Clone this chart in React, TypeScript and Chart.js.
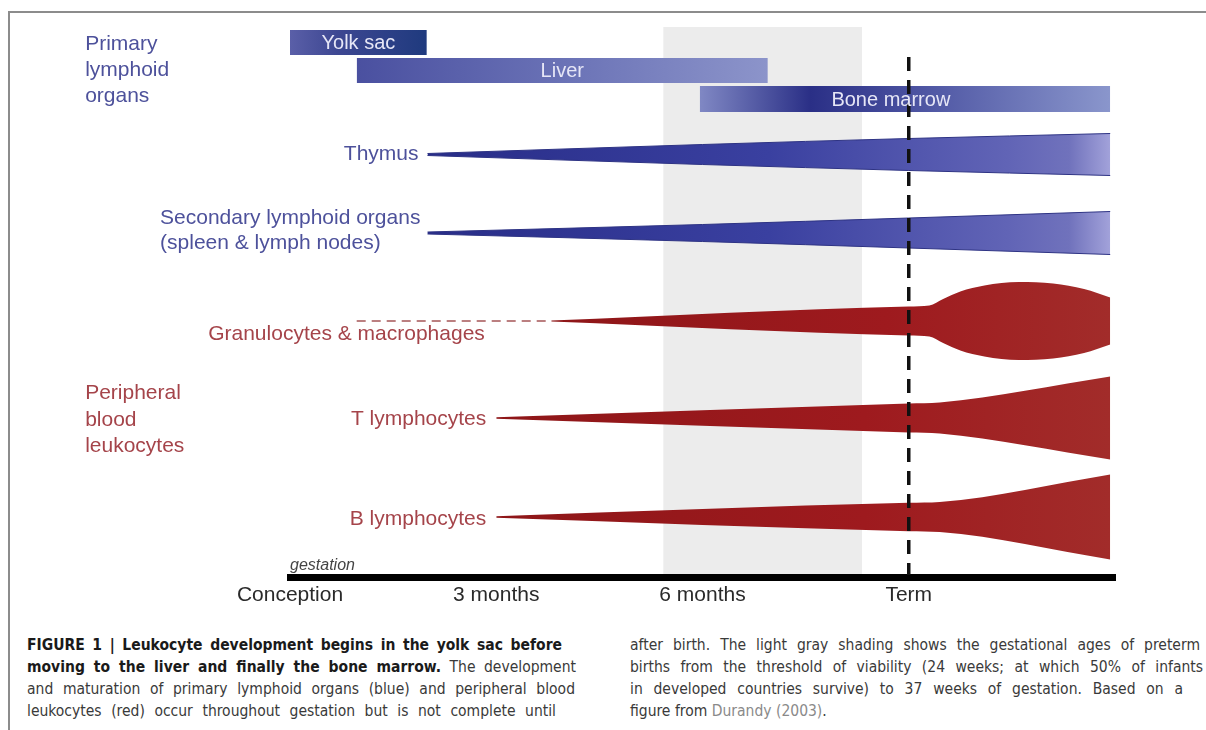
import React, { useEffect, useRef } from 'react';
import { Chart, registerables } from 'chart.js';

Chart.register(...registerables);

// ---------- data (x = months from conception, y = schematic row units) ----------
const axisTickMonths = [0, 3, 6, 9];
const axisTickLabels = ['Conception', '3 months', '6 months', 'Term'];
const termMonth = 9;
const pretermMonths = [5.43, 8.32];

const organNames = ['Yolk sac', 'Liver', 'Bone marrow'];
const organStart = [0, 0.97, 5.96];
const organEnd = [1.99, 6.95, 11.93];
const organTop = [54.7, 51.9, 49.1];
const organBottom = [52.2, 49.4, 46.5];

const rowNames = ['Thymus', 'Secondary lymphoid organs', 'Granulocytes & macrophages', 'T lymphocytes', 'B lymphocytes'];
const secondarySubLabel = '(spleen & lymph nodes)';
const rowCenters = [42.25, 34.4, 25.6, 15.9, 6.0];

const thymusMonths = [2, 6, 9, 11.93];
const thymusHalf = [0.1, 1.0, 1.6, 2.1];
const secondaryMonths = [2, 6, 9, 11.93];
const secondaryHalf = [0.1, 0.85, 1.5, 2.15];
const granuloDashMonths = [0.97, 3.8];
const granuloMonths = [3.8, 9.0, 9.3, 9.5, 9.75, 10.1, 10.6, 11.1, 11.55, 11.93];
const granuloHalf = [0.05, 1.45, 1.55, 2.2, 2.95, 3.55, 3.9, 3.75, 3.2, 2.35];
const tCellMonths = [3.0, 9.0, 9.45, 11.93];
const tCellHalf = [0.08, 1.45, 1.55, 4.15];
const bCellMonths = [3.0, 9.0, 9.45, 11.93];
const bCellHalf = [0.08, 1.42, 1.5, 4.25];

const primaryTitle = ['Primary', 'lymphoid', 'organs'];
const peripheralTitle = ['Peripheral', 'blood', 'leukocytes'];
const gestationLabel = 'gestation';

// ---------- styles ----------
const FONT = '"Liberation Sans", Arial, Helvetica, sans-serif';
const CAPTION_FONT = '"Liberation Sans Narrow", "DejaVu Sans Condensed", "Liberation Sans", Arial, sans-serif';
const BLUE_TEXT = '#4d519b';
const RED_TEXT = '#a5444a';

type Stop = [number, string];
const yolkStops: Stop[] = [[0, '#5a5fa8'], [0.35, '#3d4792'], [1, '#1f3a7e']];
const liverStops: Stop[] = [[0, '#4a50a0'], [0.5, '#6a72b6'], [1, '#8c94ca']];
const marrowStops: Stop[] = [[0, '#8088c4'], [0.27, '#2a2f86'], [0.6, '#555da8'], [1, '#8a96cc']];
const blueWedgeStops: Stop[] = [[0, '#282d88'], [0.5, '#3a40a0'], [0.85, '#6164b6'], [0.94, '#7072bc'], [1, '#a2a2da']];
const redStops: Stop[] = [[0, '#8e1618'], [0.6, '#9e1a1e'], [1, '#a22c2a']];

const gradient = (stops: Stop[], from: number, to: number) => (ctx: any) => {
  const chart = ctx.chart;
  const { chartArea, scales } = chart;
  if (!chartArea || !scales.x) return stops[0][1];
  const g = chart.ctx.createLinearGradient(scales.x.getPixelForValue(from), 0, scales.x.getPixelForValue(to), 0);
  stops.forEach(([o, c]) => g.addColorStop(o, c));
  return g;
};

function band(months: number[], center: number, half: number[], fillColor: any, edge: string | null) {
  const common = {
    pointRadius: 0,
    pointHoverRadius: 0,
    cubicInterpolationMode: 'monotone' as const,
    borderColor: edge || 'rgba(0,0,0,0)',
    borderWidth: edge ? 1 : 0,
  };
  return [
    { ...common, data: months.map((m, i) => ({ x: m, y: center + half[i] })), fill: false },
    { ...common, data: months.map((m, i) => ({ x: m, y: center - half[i] })), fill: '-1', backgroundColor: fillColor },
  ];
}

function rect(i: number, stops: Stop[]) {
  const base = { pointRadius: 0, pointHoverRadius: 0, borderWidth: 0, borderColor: 'rgba(0,0,0,0)' };
  return [
    { ...base, data: [{ x: organStart[i], y: organTop[i] }, { x: organEnd[i], y: organTop[i] }], fill: false },
    {
      ...base,
      data: [{ x: organStart[i], y: organBottom[i] }, { x: organEnd[i], y: organBottom[i] }],
      fill: '-1',
      backgroundColor: gradient(stops, organStart[i], organEnd[i]),
    },
  ];
}

const decorPlugin = {
  id: 'decor',
  beforeDatasetsDraw(chart: any) {
    const { ctx, scales: { x, y } } = chart;
    ctx.save();
    ctx.fillStyle = '#ececec';
    const x0 = x.getPixelForValue(pretermMonths[0]);
    const x1 = x.getPixelForValue(pretermMonths[1]);
    const yt = y.getPixelForValue(55.0);
    const yb = y.getPixelForValue(0.3);
    ctx.fillRect(x0, yt, x1 - x0, yb - yt);
    ctx.restore();
  },
  afterDatasetsDraw(chart: any) {
    const { ctx, scales: { x, y } } = chart;
    ctx.save();
    ctx.strokeStyle = '#111';
    ctx.lineWidth = 3.5;
    ctx.setLineDash([14, 9]);
    const tx = x.getPixelForValue(termMonth);
    ctx.beginPath();
    ctx.moveTo(tx, y.getPixelForValue(52.0));
    ctx.lineTo(tx, y.getPixelForValue(0.2));
    ctx.stroke();
    ctx.restore();
  },
  afterDraw(chart: any) {
    const { ctx, scales: { x, y } } = chart;
    const px = (m: number) => x.getPixelForValue(m);
    const py = (v: number) => y.getPixelForValue(v);
    ctx.save();
    ctx.textBaseline = 'middle';
    ctx.font = `21px ${FONT}`;

    // group titles
    ctx.textAlign = 'left';
    ctx.fillStyle = BLUE_TEXT;
    [53.3, 50.7, 48.1].forEach((v, i) => ctx.fillText(primaryTitle[i], px(-2.98), py(v)));
    ctx.fillStyle = RED_TEXT;
    [18.4, 15.7, 13.1].forEach((v, i) => ctx.fillText(peripheralTitle[i], px(-2.98), py(v)));

    // row labels
    ctx.fillStyle = BLUE_TEXT;
    ctx.textAlign = 'right';
    ctx.fillText(rowNames[0], px(thymusMonths[0]) - 9, py(rowCenters[0]));
    ctx.textAlign = 'left';
    ctx.fillText(rowNames[1], px(-1.89), py(35.9));
    ctx.fillText(secondarySubLabel, px(-1.89), py(33.4));

    ctx.fillStyle = RED_TEXT;
    ctx.fillText(rowNames[2], px(-1.19), py(24.3));
    ctx.textAlign = 'right';
    ctx.fillText(rowNames[3], px(tCellMonths[0]) - 10, py(rowCenters[3] - 0.1));
    ctx.fillText(rowNames[4], px(bCellMonths[0]) - 10, py(rowCenters[4] - 0.2));

    // organ bar labels
    ctx.fillStyle = '#e6e6f6';
    ctx.textAlign = 'center';
    ctx.font = `20px ${FONT}`;
    const labelMonths = [(organStart[0] + organEnd[0]) / 2, (organStart[1] + organEnd[1]) / 2, 8.74];
    organNames.forEach((n, i) => ctx.fillText(n, px(labelMonths[i]), py((organTop[i] + organBottom[i]) / 2) + 1));

    // gestation
    ctx.fillStyle = '#444';
    ctx.textAlign = 'left';
    ctx.font = `italic 16px ${FONT}`;
    ctx.fillText(gestationLabel, px(0), py(1.1));
    ctx.restore();
  },
};

const captionLine: React.CSSProperties = {
  position: 'absolute',
  height: 22,
  lineHeight: '22px',
  whiteSpace: 'nowrap',
  textAlign: 'justify',
  textAlignLast: 'justify' as any,
  fontSize: 15.5,
  color: '#3a3a3a',
  fontFamily: CAPTION_FONT,
};

export default function App() {
  const ref = useRef<HTMLCanvasElement>(null);
  useEffect(() => {
    if (!ref.current) return;
    const datasets: any[] = [
      ...rect(0, yolkStops),
      ...rect(1, liverStops),
      ...rect(2, marrowStops),
      ...band(thymusMonths, rowCenters[0], thymusHalf, gradient(blueWedgeStops, thymusMonths[0], 11.93), '#2e3384'),
      ...band(secondaryMonths, rowCenters[1], secondaryHalf, gradient(blueWedgeStops, secondaryMonths[0], 11.93), '#2e3384'),
      {
        data: granuloDashMonths.map((m) => ({ x: m, y: rowCenters[2] })),
        borderColor: '#bb7f80',
        borderWidth: 2,
        borderDash: [9, 6],
        pointRadius: 0,
        fill: false,
      },
      ...band(granuloMonths, rowCenters[2], granuloHalf, gradient(redStops, granuloMonths[0], 11.93), null),
      ...band(tCellMonths, rowCenters[3], tCellHalf, gradient(redStops, tCellMonths[0], 11.93), null),
      ...band(bCellMonths, rowCenters[4], bCellHalf, gradient(redStops, bCellMonths[0], 11.93), null),
    ];
    const chart = new Chart(ref.current, {
      type: 'line',
      data: { datasets },
      options: {
        animation: false,
        responsive: false,
        layout: { padding: { left: 290, right: 91, top: 17, bottom: 3 } },
        plugins: { legend: { display: false }, tooltip: { enabled: false } },
        events: [],
        scales: {
          x: {
            type: 'linear',
            min: 0,
            max: 12,
            grid: { display: false, drawTicks: false },
            border: { display: true, color: '#000', width: 7 },
            afterBuildTicks: (scale: any) => {
              scale.ticks = axisTickMonths.map((v) => ({ value: v }));
            },
            afterFit: (scale: any) => {
              scale.height = 40;
            },
            ticks: {
              autoSkip: false,
              maxRotation: 0,
              padding: 6,
              color: '#2a2a2a',
              font: { size: 21, family: FONT },
              callback: (v: any) => {
                const i = axisTickMonths.indexOf(Number(v));
                return i >= 0 ? axisTickLabels[i] : '';
              },
            },
          },
          y: { type: 'linear', min: 0, max: 56, display: false },
        },
      } as any,
      plugins: [decorPlugin],
    });
    return () => chart.destroy();
  }, []);

  return (
    <div style={{ position: 'fixed', left: 0, top: 0, width: 1206, height: 730, background: '#fff', overflow: 'hidden' }}>
      <div
        style={{
          position: 'absolute',
          left: 8,
          top: 11,
          width: 1300,
          height: 800,
          borderTop: '2px solid #8c8c8c',
          borderLeft: '2px solid #8c8c8c',
        }}
      />
      <canvas ref={ref} width={1206} height={620} style={{ position: 'absolute', left: 0, top: 0, display: 'block' }} />
      <div style={{ ...captionLine, left: 27, top: 634, width: 535, color: '#1a1a1a', fontWeight: 700 }}>
        FIGURE 1 | Leukocyte development begins in the yolk sac before
      </div>
      <div style={{ ...captionLine, left: 27, top: 656, width: 549 }}>
        <b style={{ color: '#1a1a1a' }}>moving to the liver and finally the bone marrow.</b> The development
      </div>
      <div style={{ ...captionLine, left: 27, top: 678, width: 548 }}>
        and maturation of primary lymphoid organs (blue) and peripheral blood
      </div>
      <div style={{ ...captionLine, left: 27, top: 700, width: 529 }}>
        leukocytes (red) occur throughout gestation but is not complete until
      </div>
      <div style={{ ...captionLine, left: 630, top: 634, width: 570 }}>
        after birth. The light gray shading shows the gestational ages of preterm
      </div>
      <div style={{ ...captionLine, left: 630, top: 656, width: 573 }}>
        births from the threshold of viability (24 weeks; at which 50% of infants
      </div>
      <div style={{ ...captionLine, left: 630, top: 678, width: 553 }}>
        in developed countries survive) to 37 weeks of gestation. Based on a
      </div>
      <div style={{ ...captionLine, left: 630, top: 700, textAlignLast: 'left' as any }}>
        figure from <span style={{ color: '#8a8a8a' }}>Durandy (2003)</span>.
      </div>
    </div>
  );
}
